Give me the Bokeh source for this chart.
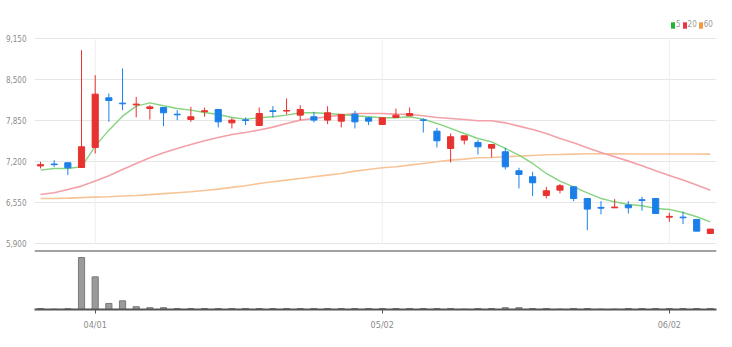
from bokeh.plotting import figure
from bokeh.layouts import column
from bokeh.models import (ColumnDataSource, Range1d, FixedTicker, NumeralTickFormatter,
                          Span, Legend, LegendItem)
from bokeh.embed import file_html
from bokeh.resources import INLINE

# ---------------- data ----------------
OPEN = [7130, 7160, 7180, 7105, 7423, 8210, 8125, 8098, 8040, 8056,
        7950, 7866, 7990, 8025, 7813, 7860, 7771, 8004, 8000, 7935,
        7909, 7856, 7840, 7951, 7893, 7787, 7898, 7925, 7860, 7681,
        7407, 7539, 7502, 7412, 7354, 7053, 6958, 6662, 6746, 6799,
        6614, 6472, 6466, 6509, 6594, 6614, 6318, 6318, 6281, 6059]
HIGH = [7195, 7220, 7180, 8965, 8569, 8278, 8675, 8225, 8093, 8056,
        8014, 8067, 8056, 8025, 7893, 7898, 8056, 8077, 8199, 8093,
        7988, 8077, 7946, 8004, 7909, 7893, 8040, 8056, 7882, 7734,
        7644, 7607, 7539, 7470, 7417, 7100, 7037, 6799, 6842, 6799,
        6614, 6572, 6604, 6572, 6641, 6614, 6387, 6403, 6281, 6128]
LOW = [7090, 7115, 6984, 7105, 7327, 7829, 8014, 7900, 7866, 7761,
       7856, 7829, 7909, 7740, 7724, 7777, 7771, 7898, 7946, 7856,
       7819, 7793, 7740, 7724, 7777, 7787, 7898, 7925, 7660, 7422,
       7185, 7470, 7312, 7264, 7074, 6773, 6651, 6614, 6693, 6572,
       6112, 6361, 6466, 6376, 6419, 6376, 6244, 6207, 6096, 6059]
CLOSE = [7150, 7150, 7100, 7433, 8268, 8167, 8115, 8110, 8066, 7972,
         7940, 7909, 8005, 7829, 7856, 7850, 7961, 7993, 8009, 8025,
         7856, 7972, 7946, 7829, 7840, 7893, 7935, 7961, 7852, 7528,
         7592, 7607, 7433, 7470, 7116, 6995, 6863, 6736, 6815, 6614,
         6445, 6460, 6478, 6466, 6582, 6376, 6330, 6308, 6096, 6128]
VOLUME = [50000, 15000, 40000, 2580000, 1620000, 300000, 430000, 140000, 90000, 90000,
          50000, 50000, 50000, 50000, 50000, 50000, 50000, 50000, 50000, 50000,
          50000, 50000, 50000, 50000, 50000, 50000, 50000, 50000, 50000, 50000,
          50000, 15000, 50000, 50000, 90000, 90000, 50000, 50000, 15000, 50000,
          50000, 15000, 15000, 50000, 50000, 50000, 50000, 50000, 50000, 50000]
MA5 = [7063, 7090, 7090, 7116, 7444, 7697, 7919, 8077, 8130, 8083,
       8040, 8014, 7977, 7946, 7898, 7872, 7893, 7909, 7935, 7972,
       7972, 7961, 7946, 7925, 7909, 7893, 7893, 7909, 7872, 7803,
       7724, 7644, 7565, 7512, 7407, 7301, 7169, 7010, 6889, 6799,
       6704, 6614, 6561, 6519, 6498, 6456, 6440, 6392, 6324, 6244]
MA20 = [6678, 6704, 6757, 6810, 6889, 6974, 7074, 7169, 7259, 7338,
        7407, 7470, 7528, 7581, 7629, 7660, 7700, 7745, 7803, 7856,
        7882, 7909, 7935, 7961, 7961, 7961, 7951, 7946, 7925, 7898,
        7882, 7866, 7845, 7845, 7813, 7761, 7708, 7644, 7565, 7496,
        7417, 7343, 7275, 7206, 7132, 7053, 6979, 6905, 6826, 6746]
MA60 = [6614, 6614, 6620, 6628, 6636, 6641, 6652, 6662, 6675, 6690,
        6705, 6720, 6740, 6762, 6790, 6815, 6852, 6879, 6905, 6931,
        6958, 6984, 7010, 7048, 7074, 7100, 7116, 7143, 7169, 7195,
        7222, 7238, 7259, 7264, 7275, 7285, 7296, 7306, 7312, 7317,
        7322, 7322, 7321, 7320, 7320, 7319, 7319, 7318, 7318, 7317]
PRICE_TICKS = [5900, 6550, 7200, 7850, 8500, 9150]
TICK_POS = [4, 25, 46]
TICK_LABELS = ["04/01", "05/02", "06/02"]
MA_LABELS = ["5", "20", "60"]

# ---------------- styling ----------------
UP = "#e8322f"
DOWN = "#1b7fe8"
MA_COLORS = ["#86d47f", "#f3a0a8", "#f7c497"]
LEGEND_COLORS = ["#21b534", "#ec3343", "#f39a3a"]
FONT = "'Liberation Sans Narrow', 'DejaVu Sans Condensed', 'Roboto Condensed', 'Liberation Sans', sans-serif"

n = len(CLOSE)
xs = list(range(n))
colors = [UP if c >= o else DOWN for o, c in zip(OPEN, CLOSE)]
src = ColumnDataSource(dict(
    x=xs, open=OPEN, high=HIGH, low=LOW, close=CLOSE,
    top=[max(o, c) for o, c in zip(OPEN, CLOSE)],
    bottom=[min(o, c) for o, c in zip(OPEN, CLOSE)],
    color=colors, vol=VOLUME, ma5=MA5, ma20=MA20, ma60=MA60))

# price frame spans the whole top figure (0..250 px); 650 price units = 41 px
PX = 650 / 41
X_RANGE = (-0.44, n - 0.55)
Y_RANGE = (PRICE_TICKS[-1] - 212 * PX, PRICE_TICKS[-1] + 38 * PX)

p1 = figure(width=732, height=250, output_backend="svg", toolbar_location=None,
            x_range=Range1d(*X_RANGE), y_range=Range1d(*Y_RANGE),
            min_border_left=34, min_border_right=16, min_border_top=0, min_border_bottom=0)
p1.outline_line_color = None
p1.xaxis.visible = False
p1.xgrid.visible = False
p1.ygrid.ticker = FixedTicker(ticks=PRICE_TICKS)
p1.ygrid.grid_line_color = "#e6e6e6"
p1.yaxis.ticker = FixedTicker(ticks=PRICE_TICKS)
p1.yaxis.formatter = NumeralTickFormatter(format="0,0")
p1.yaxis.axis_line_color = None
p1.yaxis.major_tick_line_color = None
p1.yaxis.minor_tick_line_color = None
p1.yaxis.major_label_standoff = 2
p1.yaxis.major_label_text_font = FONT
p1.yaxis.major_label_text_font_size = "8px"
p1.yaxis.major_label_text_color = "#8c8c8c"

# vertical grid lines at the date ticks, limited to the price tick span
p1.segment(x0=TICK_POS, y0=[PRICE_TICKS[0]] * len(TICK_POS),
           x1=TICK_POS, y1=[PRICE_TICKS[-1]] * len(TICK_POS),
           line_color="#eeeeee", line_width=1)

# moving averages
p1.line("x", "ma60", source=src, line_color=MA_COLORS[2], line_width=1.6)
p1.line("x", "ma20", source=src, line_color=MA_COLORS[1], line_width=1.6)
p1.line("x", "ma5", source=src, line_color=MA_COLORS[0], line_width=1.4)

# candles
p1.segment(x0="x", y0="low", x1="x", y1="high", source=src, line_color="color", line_width=1)
p1.vbar(x="x", width=0.45, top="top", bottom="bottom", source=src,
        fill_color="color", line_color="color", line_width=1)

# legend swatches: hidden zero-size quads (legend draws their fill as squares)
leg_renderers = []
for c, ma in zip(LEGEND_COLORS, [MA5, MA20, MA60]):
    r = p1.quad(left=[0], right=[0], top=[ma[0]], bottom=[ma[0]], fill_color=c, line_color=None)
    r.visible = False
    leg_renderers.append(r)
legend = Legend(items=[LegendItem(label=lab, renderers=[r]) for lab, r in zip(MA_LABELS, leg_renderers)],
                location=(636, 221), orientation="horizontal",
                glyph_width=5, glyph_height=8, label_height=8, label_width=4,
                label_standoff=1, spacing=1, padding=0, margin=0,
                label_text_font=FONT, label_text_font_size="8px", label_text_color="#999999",
                border_line_color=None, background_fill_alpha=0,
                inactive_fill_alpha=0, click_policy="none")
p1.add_layout(legend)

# volume panel
VOL_TOP = max(VOLUME) * 59 / 52
p2 = figure(width=732, height=97, output_backend="svg", toolbar_location=None,
            x_range=p1.x_range, y_range=Range1d(0, VOL_TOP), y_axis_location=None,
            min_border_left=34, min_border_right=16, min_border_top=0, min_border_bottom=38)
p2.outline_line_color = None
p2.grid.visible = False
p2.vbar(x="x", width=0.45, top="vol", bottom=0, source=src,
        fill_color="#9b9b9b", line_color="#7a7a7a", line_width=1)
p2.add_layout(Span(location=VOL_TOP, dimension="width", line_color="#444444", line_width=2))
p2.xaxis.ticker = FixedTicker(ticks=TICK_POS)
p2.xaxis.major_label_overrides = {pos: lab for pos, lab in zip(TICK_POS, TICK_LABELS)}
p2.xaxis.axis_line_color = "#555555"
p2.xaxis.axis_line_width = 2
p2.xaxis.major_tick_line_color = "#555555"
p2.xaxis.major_tick_in = 0
p2.xaxis.major_tick_out = 4
p2.xaxis.minor_tick_line_color = None
p2.xaxis.major_label_standoff = 6
p2.xaxis.major_label_text_font = FONT
p2.xaxis.major_label_text_font_size = "9px"
p2.xaxis.major_label_text_color = "#8c8c8c"

layout = column(p1, p2, spacing=0)
open("out.html", "w").write(file_html(layout, INLINE))
